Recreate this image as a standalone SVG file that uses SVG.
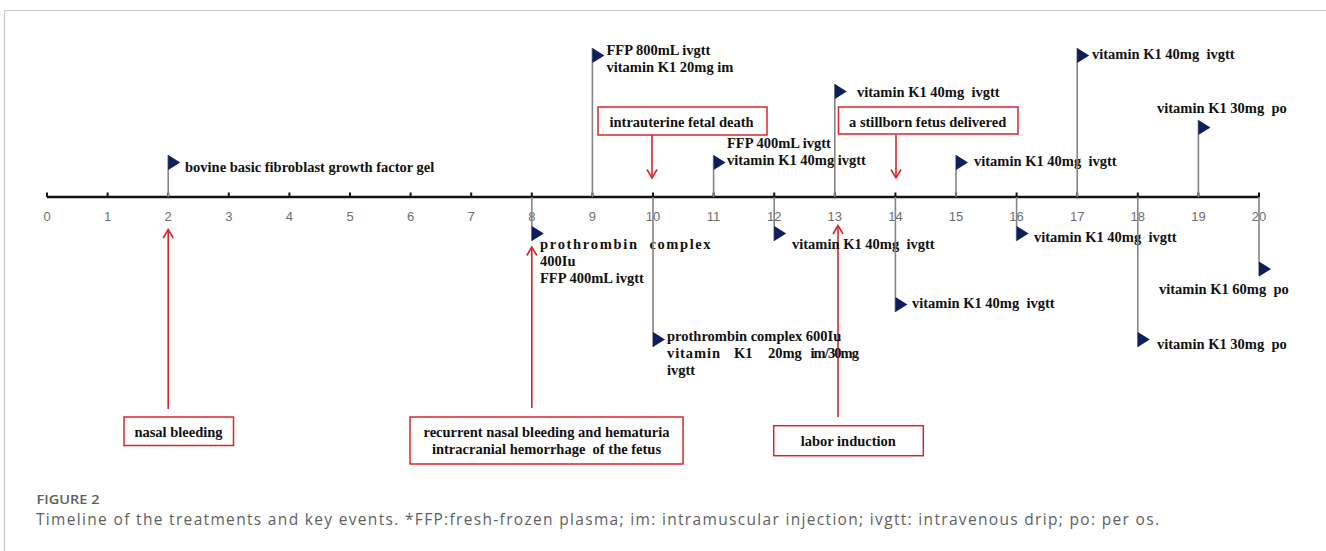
<svg xmlns="http://www.w3.org/2000/svg" width="1326" height="551" viewBox="0 0 1326 551">
<style>
.lbl{font-family:"Liberation Serif","Times New Roman",serif;font-weight:bold;font-size:14.5px;fill:#111;}
.num{font-family:"Liberation Sans",Arial,sans-serif;font-size:13px;fill:#6e6e6e;text-anchor:middle;}
.pole{stroke:#858585;stroke-width:1.6;fill:none;}
.flag{fill:#0b1f5e;}
.box{fill:#fff;stroke:#d7262c;stroke-width:1.5;}
.red{stroke:#d7262c;stroke-width:1.6;fill:none;}
.tick{stroke:#111;stroke-width:2;}
.mid{text-anchor:middle;}
</style>
<defs>
<marker id="arr" viewBox="-10 -7 12 14" refX="0" refY="0" markerWidth="12" markerHeight="14" markerUnits="userSpaceOnUse" orient="auto">
<path d="M-8.5,-5 L0,0 L-8.5,5" fill="none" stroke="#d7262c" stroke-width="1.6"/>
</marker>
<path id="tri" d="M0,0 L12,7.5 L0,15 Z"/>
</defs>
<rect x="0" y="0" width="1326" height="551" fill="#fff"/>
<path d="M4.5,551 L4.5,10.5 L1326,10.5" fill="none" stroke="#c9c9c9" stroke-width="1.2"/>

<g id="axis">
<line x1="47" y1="197" x2="1259" y2="197" stroke="#111" stroke-width="2.6"/>
<g class="tick">
<line x1="47" y1="192.5" x2="47" y2="197"/><line x1="107.6" y1="192.5" x2="107.6" y2="197"/><line x1="168.2" y1="192.5" x2="168.2" y2="197"/><line x1="228.8" y1="192.5" x2="228.8" y2="197"/><line x1="289.4" y1="192.5" x2="289.4" y2="197"/><line x1="350" y1="192.5" x2="350" y2="197"/><line x1="410.6" y1="192.5" x2="410.6" y2="197"/><line x1="471.2" y1="192.5" x2="471.2" y2="197"/><line x1="531.8" y1="192.5" x2="531.8" y2="197"/><line x1="592.4" y1="192.5" x2="592.4" y2="197"/><line x1="653" y1="192.5" x2="653" y2="197"/><line x1="713.6" y1="192.5" x2="713.6" y2="197"/><line x1="774.2" y1="192.5" x2="774.2" y2="197"/><line x1="834.8" y1="192.5" x2="834.8" y2="197"/><line x1="895.4" y1="192.5" x2="895.4" y2="197"/><line x1="956" y1="192.5" x2="956" y2="197"/><line x1="1016.6" y1="192.5" x2="1016.6" y2="197"/><line x1="1077.2" y1="192.5" x2="1077.2" y2="197"/><line x1="1137.8" y1="192.5" x2="1137.8" y2="197"/><line x1="1198.4" y1="192.5" x2="1198.4" y2="197"/><line x1="1259" y1="192.5" x2="1259" y2="197"/>
</g>
<text class="num" x="47" y="220.5">0</text><text class="num" x="107.6" y="220.5">1</text><text class="num" x="168.2" y="220.5">2</text><text class="num" x="228.8" y="220.5">3</text><text class="num" x="289.4" y="220.5">4</text><text class="num" x="350" y="220.5">5</text><text class="num" x="410.6" y="220.5">6</text><text class="num" x="471.2" y="220.5">7</text><text class="num" x="531.8" y="220.5">8</text><text class="num" x="592.4" y="220.5">9</text><text class="num" x="653" y="220.5">10</text><text class="num" x="713.6" y="220.5">11</text><text class="num" x="774.2" y="220.5">12</text><text class="num" x="834.8" y="220.5">13</text><text class="num" x="895.4" y="220.5">14</text><text class="num" x="956" y="220.5">15</text><text class="num" x="1016.6" y="220.5">16</text><text class="num" x="1077.2" y="220.5">17</text><text class="num" x="1137.8" y="220.5">18</text><text class="num" x="1198.4" y="220.5">19</text><text class="num" x="1259" y="220.5">20</text>
</g>

<g id="connectors">
<line class="red" x1="168.2" y1="409" x2="168.2" y2="229.5" marker-end="url(#arr)"/>
<line class="red" x1="531.8" y1="408" x2="531.8" y2="247" marker-end="url(#arr)"/>
<line class="red" x1="838" y1="417" x2="838" y2="225.5" marker-end="url(#arr)"/>
<line class="red" x1="652" y1="135" x2="652" y2="178" marker-end="url(#arr)"/>
<line class="red" x1="896" y1="135" x2="896" y2="178" marker-end="url(#arr)"/>
</g>

<g id="day2">
<line class="pole" x1="168.2" y1="197" x2="168.2" y2="155"/>
<use href="#tri" class="flag" x="168.2" y="155"/>
<text class="lbl" x="185" y="172">bovine basic fibroblast growth factor gel</text>
</g>
<g id="day8">
<line class="pole" x1="531.8" y1="197" x2="531.8" y2="241"/>
<use href="#tri" class="flag" x="531.8" y="226"/>
<text class="lbl" x="540" y="249" textLength="97" lengthAdjust="spacing">prothrombin</text>
<text class="lbl" x="649.5" y="249" textLength="61" lengthAdjust="spacing">complex</text>
<text class="lbl" x="540" y="266">400Iu</text>
<text class="lbl" x="540" y="283">FFP 400mL ivgtt</text>
</g>
<g id="day9">
<line class="pole" x1="592.4" y1="197" x2="592.4" y2="48"/>
<use href="#tri" class="flag" x="592.4" y="48"/>
<text class="lbl" x="606.5" y="55">FFP 800mL ivgtt</text>
<text class="lbl" x="606.5" y="72">vitamin K1 20mg im</text>
</g>
<g id="day10">
<line class="pole" x1="653" y1="197" x2="653" y2="347"/>
<use href="#tri" class="flag" x="653" y="332"/>
<text class="lbl" x="667" y="341">prothrombin complex 600Iu</text>
<text class="lbl" y="358"><tspan x="667" textLength="53" lengthAdjust="spacing">vitamin</tspan><tspan x="734">K1</tspan><tspan x="768">20mg</tspan><tspan x="810.5" textLength="48.5" lengthAdjust="spacing">im/30mg</tspan></text>
<text class="lbl" x="667" y="375">ivgtt</text>
</g>
<g id="day11">
<line class="pole" x1="713.6" y1="197" x2="713.6" y2="155"/>
<use href="#tri" class="flag" x="713.6" y="155"/>
<text class="lbl" x="727" y="148">FFP 400mL ivgtt</text>
<text class="lbl" x="727" y="165">vitamin K1 40mg ivgtt</text>
</g>
<g id="day12">
<line class="pole" x1="774.2" y1="197" x2="774.2" y2="241"/>
<use href="#tri" class="flag" x="774.2" y="226"/>
<text class="lbl" x="792" y="248.5">vitamin K1 40mg&#160; ivgtt</text>
</g>
<g id="day13">
<line class="pole" x1="834.8" y1="197" x2="834.8" y2="84"/>
<use href="#tri" class="flag" x="834.8" y="84"/>
<text class="lbl" x="857" y="97">vitamin K1 40mg&#160; ivgtt</text>
</g>
<g id="day14">
<line class="pole" x1="895.4" y1="197" x2="895.4" y2="312"/>
<use href="#tri" class="flag" x="895.4" y="297"/>
<text class="lbl" x="912" y="308">vitamin K1 40mg&#160; ivgtt</text>
</g>
<g id="day15">
<line class="pole" x1="956" y1="197" x2="956" y2="155"/>
<use href="#tri" class="flag" x="956" y="155"/>
<text class="lbl" x="974" y="166">vitamin K1 40mg&#160; ivgtt</text>
</g>
<g id="day16">
<line class="pole" x1="1016.6" y1="197" x2="1016.6" y2="241"/>
<use href="#tri" class="flag" x="1016.6" y="226"/>
<text class="lbl" x="1034" y="241.5">vitamin K1 40mg&#160; ivgtt</text>
</g>
<g id="day17">
<line class="pole" x1="1077.2" y1="197" x2="1077.2" y2="48"/>
<use href="#tri" class="flag" x="1077.2" y="48"/>
<text class="lbl" x="1092" y="58.5">vitamin K1 40mg&#160; ivgtt</text>
</g>
<g id="day18">
<line class="pole" x1="1137.8" y1="197" x2="1137.8" y2="347"/>
<use href="#tri" class="flag" x="1137.8" y="332"/>
<text class="lbl" x="1157" y="348.5">vitamin K1 30mg&#160; po</text>
</g>
<g id="day19">
<line class="pole" x1="1198.4" y1="197" x2="1198.4" y2="120"/>
<use href="#tri" class="flag" x="1198.4" y="120"/>
<text class="lbl" x="1157" y="113">vitamin K1 30mg&#160; po</text>
</g>
<g id="day20">
<line class="pole" x1="1259" y1="197" x2="1259" y2="276"/>
<use href="#tri" class="flag" x="1259" y="261.5"/>
<text class="lbl" x="1159" y="293.5">vitamin K1 60mg&#160; po</text>
</g>

<g id="ev-fetal-death">
<rect class="box" x="598" y="107" width="169" height="28"/>
<text class="lbl" x="609.5" y="127">intrauterine fetal death</text>
</g>
<g id="ev-stillborn">
<rect class="box" x="838.5" y="107" width="179.5" height="27"/>
<text class="lbl" x="849" y="127">a stillborn fetus delivered</text>
</g>
<g id="ev-nasal">
<rect class="box" x="124" y="417" width="109.5" height="28.5"/>
<text class="lbl mid" x="178.5" y="437">nasal bleeding</text>
</g>
<g id="ev-recurrent">
<rect class="box" x="410" y="417" width="273" height="47"/>
<text class="lbl mid" x="546.5" y="437">recurrent nasal bleeding and hematuria</text>
<text class="lbl mid" x="546.5" y="453.5">intracranial hemorrhage&#160; of the fetus</text>
</g>
<g id="ev-labor">
<rect class="box" x="773.7" y="425.7" width="149.6" height="30"/>
<text class="lbl mid" x="848.3" y="445.5">labor induction</text>
</g>

<g id="caption">
<text x="36.5" y="503.5" font-family="'Open Sans','Noto Sans',sans-serif" font-size="13" font-weight="600" fill="#5f5f5f" textLength="63" lengthAdjust="spacingAndGlyphs">FIGURE 2</text>
<text x="36" y="525" font-family="'Open Sans','Noto Sans',sans-serif" font-size="15.5" fill="#5f5f5f" textLength="1123" lengthAdjust="spacing">Timeline of the treatments and key events. *FFP:fresh-frozen plasma; im: intramuscular injection; ivgtt: intravenous drip; po: per os.</text>
</g>
</svg>
